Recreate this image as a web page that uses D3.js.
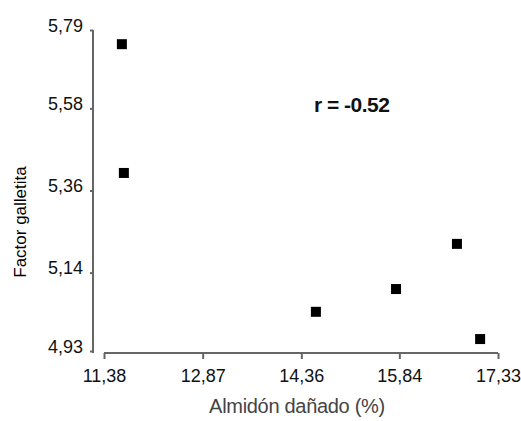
<!DOCTYPE html>
<html><head><meta charset="utf-8">
<script src="https://cdn.jsdelivr.net/npm/d3@7"></script>
<style>body{margin:0;background:#fff}svg{display:block}text{font-family:"Liberation Sans",Arial,sans-serif}</style>
</head><body>
<script>
const almidon = [11.65, 11.68, 14.58, 15.79, 16.71, 17.06];
const factor = [5.752, 5.407, 5.035, 5.096, 5.217, 4.962];
const xTicks = [11.38, 12.87, 14.36, 15.84, 17.33];
const yTicks = [4.93, 5.14, 5.36, 5.58, 5.79];
const xTitle = "Almidón dañado (%)";
const yTitle = "Factor galletita";
const rLabel = "r = -0.52";

const W = 521, H = 421;
const svg = d3.select("body").append("svg").attr("width", W).attr("height", H);
const x = d3.scaleLinear().domain([11.38, 17.33]).range([104, 498]);
const y = d3.scaleLinear().domain([4.93, 5.79]).range([351, 30]);
const fmt = d => d.toFixed(2).replace(".", ",");
const axisColor = "#666";

// Y axis
const ya = svg.append("g").attr("transform", "translate(93,0)")
  .call(d3.axisLeft(y).tickValues(yTicks).tickFormat(fmt).tickSize(3).tickPadding(7));
ya.select(".domain").attr("d", `M0,${y(5.79)}V353`).attr("stroke", axisColor).attr("stroke-width", 2);
ya.selectAll(".tick line").attr("stroke", axisColor).attr("stroke-width", 2);
ya.selectAll(".tick text").attr("font-size", 18).attr("fill", "#111").attr("dy", "0.06em")
  .attr("font-family", "Liberation Sans, Arial, sans-serif");

// X axis
const xa = svg.append("g").attr("transform", "translate(0,353)")
  .call(d3.axisBottom(x).tickValues(xTicks).tickFormat(fmt).tickSize(6).tickPadding(10));
xa.select(".domain").attr("d", `M${x(11.38)},0H${x(17.33)}`).attr("stroke", axisColor).attr("stroke-width", 2);
xa.selectAll(".tick line").attr("stroke", axisColor).attr("stroke-width", 2);
xa.selectAll(".tick text").attr("font-size", 18).attr("fill", "#111")
  .attr("font-family", "Liberation Sans, Arial, sans-serif");

// Points
const data = almidon.map((v, i) => ({x: v, y: factor[i]}));
const s = 10;
svg.append("g").selectAll("rect").data(data).join("rect")
  .attr("x", d => x(d.x) - s / 2).attr("y", d => y(d.y) - s / 2)
  .attr("width", s).attr("height", s).attr("fill", "#000");

// r label
svg.append("text").attr("x", 314).attr("y", 112).attr("font-size", 21).attr("font-weight", "bold")
  .attr("fill", "#111").attr("letter-spacing", "-0.5").text(rLabel);

// Titles
svg.append("text").attr("x", 297).attr("y", 413).attr("text-anchor", "middle")
  .attr("font-size", 20).attr("fill", "#444").attr("letter-spacing", "-0.3").text(xTitle);
svg.append("text").attr("transform", "translate(26,222) rotate(-90)").attr("text-anchor", "middle")
  .attr("font-size", 17).attr("fill", "#000").text(yTitle);
</script>
</body></html>
